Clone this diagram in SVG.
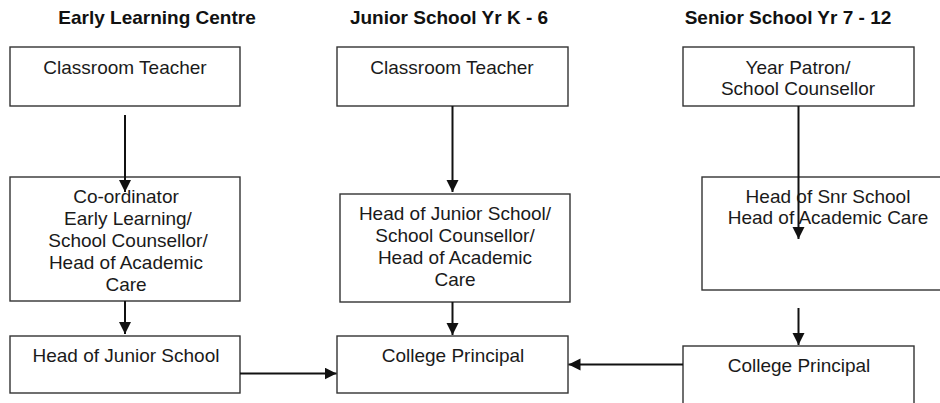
<svg xmlns="http://www.w3.org/2000/svg" width="940" height="403" viewBox="0 0 940 403">
  <style>
    .box { fill: #ffffff; stroke: #333333; stroke-width: 1.4; }
    .t { font-family: "Liberation Sans", Arial, sans-serif; font-size: 19px; fill: #1a1a1a; text-anchor: middle; }
    .h { font-family: "Liberation Sans", Arial, sans-serif; font-size: 19px; font-weight: bold; fill: #111111; text-anchor: middle; }
    .c { fill: none; stroke: #111111; stroke-width: 2; }
  </style>
  <defs>
    <marker id="arr" markerUnits="userSpaceOnUse" markerWidth="13" markerHeight="13" refX="12" refY="6" orient="auto">
      <path d="M0,0 L12,6 L0,12 z" fill="#111111"/>
    </marker>
  </defs>
  <rect width="940" height="403" fill="#ffffff"/>

  <g id="headings">
    <text class="h" x="157" y="24">Early Learning Centre</text>
    <text class="h" x="449" y="24">Junior School Yr K - 6</text>
    <text class="h" x="788" y="24">Senior School Yr 7 - 12</text>
  </g>

  <g id="elc-teacher">
    <rect class="box" x="10" y="47" width="230" height="59"/>
    <text class="t" x="125" y="74">Classroom Teacher</text>
  </g>
  <g id="elc-coordinator">
    <rect class="box" x="10" y="177" width="230" height="124"/>
    <text class="t" x="126" y="203">Co-ordinator</text>
    <text class="t" x="128" y="225">Early Learning/</text>
    <text class="t" x="128" y="247">School Counsellor/</text>
    <text class="t" x="126" y="269">Head of Academic</text>
    <text class="t" x="126" y="291">Care</text>
  </g>
  <g id="elc-head">
    <rect class="box" x="10" y="336" width="230" height="57"/>
    <text class="t" x="126" y="362">Head of Junior School</text>
  </g>

  <g id="jr-teacher">
    <rect class="box" x="337" y="47" width="231" height="59"/>
    <text class="t" x="452" y="74">Classroom Teacher</text>
  </g>
  <g id="jr-head">
    <rect class="box" x="340" y="194" width="230" height="108"/>
    <text class="t" x="455" y="220">Head of Junior School/</text>
    <text class="t" x="455" y="242">School Counsellor/</text>
    <text class="t" x="455" y="264">Head of Academic</text>
    <text class="t" x="455" y="286">Care</text>
  </g>
  <g id="jr-principal">
    <rect class="box" x="337" y="336" width="231" height="57"/>
    <text class="t" x="453" y="362">College Principal</text>
  </g>

  <g id="sr-patron">
    <rect class="box" x="683" y="47" width="231" height="59"/>
    <text class="t" x="798" y="74">Year Patron/</text>
    <text class="t" x="798" y="95">School Counsellor</text>
  </g>
  <g id="sr-head">
    <rect class="box" x="702" y="177" width="260" height="113"/>
    <text class="t" x="828" y="203">Head of Snr School</text>
    <text class="t" x="828" y="224">Head of Academic Care</text>
  </g>
  <g id="sr-principal">
    <rect class="box" x="683" y="346" width="231" height="70"/>
    <text class="t" x="799" y="372">College Principal</text>
  </g>

  <g id="connectors">
    <line class="c" x1="125" y1="115" x2="125" y2="192" marker-end="url(#arr)"/>
    <line class="c" x1="125" y1="301" x2="125" y2="334" marker-end="url(#arr)"/>
    <line class="c" x1="240" y1="373.5" x2="336.5" y2="373.5" marker-end="url(#arr)"/>
    <line class="c" x1="452.5" y1="106" x2="452.5" y2="192" marker-end="url(#arr)"/>
    <line class="c" x1="452.5" y1="302" x2="452.5" y2="335" marker-end="url(#arr)"/>
    <line class="c" x1="683" y1="364.5" x2="568.5" y2="364.5" marker-end="url(#arr)"/>
    <line class="c" x1="798.5" y1="106" x2="798.5" y2="239" marker-end="url(#arr)"/>
    <line class="c" x1="798.5" y1="308" x2="798.5" y2="345" marker-end="url(#arr)"/>
  </g>
</svg>
